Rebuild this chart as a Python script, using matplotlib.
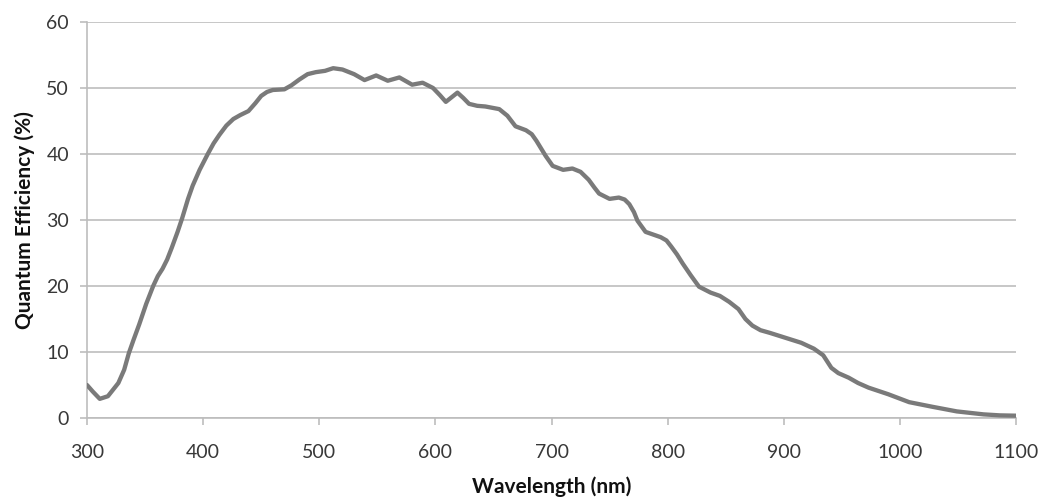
import matplotlib
matplotlib.use("Agg")
import matplotlib.pyplot as plt

wavelength = [300, 305, 311, 318, 327, 332, 336, 340, 345, 351, 357, 361, 365, 369,
              373, 378, 382, 387, 391, 397, 404, 409, 414, 420, 426, 432, 439, 445,
              450, 455, 460, 470, 476, 483, 490, 497, 505, 512, 520, 530, 539, 549,
              559, 569, 580, 589, 598, 604, 609, 614, 619, 624, 629, 636, 643, 655,
              662, 669, 678, 683, 687, 695, 701, 710, 718, 725, 732, 737, 741, 750,
              758, 763, 767, 771, 774, 781, 794, 799, 803, 808, 813, 820, 827, 837,
              845, 853, 861, 867, 873, 880, 888, 897, 906, 915, 926, 934, 941, 947,
              956, 964, 973, 990, 1008, 1028, 1049, 1072, 1086, 1100]
qe = [5.0, 4.0, 2.9, 3.3, 5.3, 7.3, 9.8, 11.8, 14.2, 17.3, 20.0, 21.5, 22.6, 24.0,
      25.8, 28.2, 30.3, 33.2, 35.2, 37.6, 40.0, 41.6, 42.9, 44.3, 45.3, 45.9, 46.5, 47.7,
      48.8, 49.4, 49.7, 49.8, 50.4, 51.3, 52.1, 52.4, 52.6, 53.0, 52.8, 52.1, 51.2, 51.9,
      51.1, 51.6, 50.5, 50.8, 50.0, 48.9, 47.9, 48.6, 49.3, 48.5, 47.6, 47.3, 47.2, 46.8,
      45.8, 44.2, 43.6, 43.0, 42.0, 39.7, 38.2, 37.6, 37.8, 37.3, 36.1, 34.9, 34.0, 33.2,
      33.4, 33.1, 32.4, 31.2, 29.9, 28.2, 27.4, 26.9, 26.0, 24.8, 23.4, 21.6, 19.9, 19.0,
      18.5, 17.6, 16.5, 15.0, 14.0, 13.3, 12.9, 12.4, 11.9, 11.4, 10.5, 9.5, 7.6, 6.8,
      6.1, 5.3, 4.6, 3.6, 2.4, 1.7, 1.0, 0.55, 0.4, 0.35]
x_ticks = [300, 400, 500, 600, 700, 800, 900, 1000, 1100]
y_ticks = [0, 10, 20, 30, 40, 50, 60]

plt.rcParams['font.family'] = ['Lato', 'DejaVu Sans']

fig = plt.figure(figsize=(10.45, 4.98), dpi=100)
ax = fig.add_axes([87/1045, 1-418/498, (1016-87)/1045, (418-22)/498])

grid_c = '#bdbdbd'
ax.plot(wavelength, qe, color='#7a7a7a', lw=3.1, solid_capstyle='round',
        solid_joinstyle='round', zorder=3)
ax.set_xlim(300, 1100)
ax.set_ylim(0, 60)
ax.set_xticks(x_ticks)
ax.set_yticks(y_ticks)
ax.grid(axis='y', color=grid_c, lw=1.2)
ax.set_axisbelow(True)
for s in ['top', 'right']:
    ax.spines[s].set_visible(False)
for s in ['left', 'bottom']:
    ax.spines[s].set_color(grid_c)
    ax.spines[s].set_linewidth(1.2)
ax.tick_params(axis='both', colors=grid_c, labelcolor='#383838', labelsize=14,
               length=5, width=1.2)
ax.tick_params(axis='y', pad=8)
ax.tick_params(axis='x', pad=14)
ax.set_xlabel('Wavelength (nm)', fontsize=15, fontweight='bold', color='#111111', labelpad=11)
ax.set_ylabel('Quantum Efficiency (%)', fontsize=15, fontweight='bold', color='#111111', labelpad=8)

fig.savefig('out.png', dpi=100)
